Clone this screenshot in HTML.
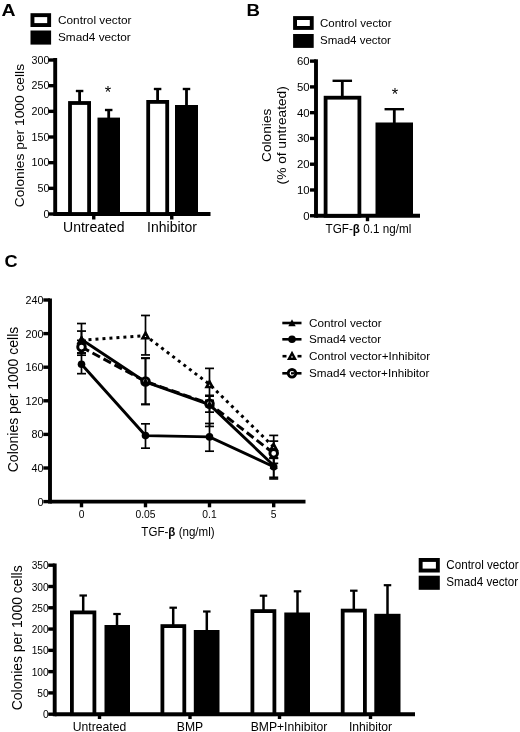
<!DOCTYPE html>
<html><head><meta charset="utf-8"><title>Figure</title>
<style>html,body{margin:0;padding:0;background:#fff;}svg{display:block;filter:blur(0.45px)}text{font-family:"Liberation Sans",sans-serif;fill:#000}</style>
</head><body>
<svg width="520" height="732" viewBox="0 0 520 732">
<rect width="520" height="732" fill="#fff"/>
<text transform="translate(1.5 15.8) scale(1.2 1)" font-size="16.2" text-anchor="start" font-weight="bold" >A</text>
<rect x="32.45" y="15.149999999999999" width="16.700000000000003" height="9.9" fill="#fff" stroke="#000" stroke-width="3.9"/>
<rect x="30.5" y="30.5" width="20.6" height="14.100000000000001" fill="#000"/>
<text transform="translate(58 23.7)" font-size="11.8" text-anchor="start" >Control vector</text>
<text transform="translate(58 41.2)" font-size="11.8" text-anchor="start" >Smad4 vector</text>
<line x1="55.2" y1="58" x2="55.2" y2="215.95" stroke="#000" stroke-width="3.9" />
<line x1="55.2" y1="214.0" x2="210.5" y2="214.0" stroke="#000" stroke-width="3.9" />
<line x1="48.8" y1="214.0" x2="55.2" y2="214.0" stroke="#000" stroke-width="3.4" />
<text transform="translate(49.4 217.7)" font-size="10.7" text-anchor="end" >0</text>
<line x1="48.8" y1="188.335" x2="55.2" y2="188.335" stroke="#000" stroke-width="3.4" />
<text transform="translate(49.4 192.035)" font-size="10.7" text-anchor="end" >50</text>
<line x1="48.8" y1="162.67000000000002" x2="55.2" y2="162.67000000000002" stroke="#000" stroke-width="3.4" />
<text transform="translate(49.4 166.37)" font-size="10.7" text-anchor="end" >100</text>
<line x1="48.8" y1="137.005" x2="55.2" y2="137.005" stroke="#000" stroke-width="3.4" />
<text transform="translate(49.4 140.70499999999998)" font-size="10.7" text-anchor="end" >150</text>
<line x1="48.8" y1="111.34" x2="55.2" y2="111.34" stroke="#000" stroke-width="3.4" />
<text transform="translate(49.4 115.04)" font-size="10.7" text-anchor="end" >200</text>
<line x1="48.8" y1="85.67500000000001" x2="55.2" y2="85.67500000000001" stroke="#000" stroke-width="3.4" />
<text transform="translate(49.4 89.37500000000001)" font-size="10.7" text-anchor="end" >250</text>
<line x1="48.8" y1="60.01000000000002" x2="55.2" y2="60.01000000000002" stroke="#000" stroke-width="3.4" />
<text transform="translate(49.4 63.71000000000002)" font-size="10.7" text-anchor="end" >300</text>
<line x1="93.75" y1="214.0" x2="93.75" y2="219.5" stroke="#000" stroke-width="3.4" />
<line x1="171.75" y1="214.0" x2="171.75" y2="219.5" stroke="#000" stroke-width="3.4" />
<text transform="translate(24.0 135.6) rotate(-90) scale(1.07 1)" font-size="12.9" text-anchor="middle" >Colonies per 1000 cells</text>
<line x1="79.6" y1="91" x2="79.6" y2="104" stroke="#000" stroke-width="2.8" />
<line x1="75.85" y1="91" x2="83.35" y2="91" stroke="#000" stroke-width="2.4" />
<rect x="70.0" y="103.0" width="19.100000000000005" height="111.0" fill="#fff" stroke="#000" stroke-width="3.8"/>
<line x1="108.7" y1="110" x2="108.7" y2="120" stroke="#000" stroke-width="2.8" />
<line x1="104.95" y1="110" x2="112.45" y2="110" stroke="#000" stroke-width="2.4" />
<rect x="97.5" y="117.6" width="22.5" height="96.4" fill="#000"/>
<line x1="157.6" y1="89" x2="157.6" y2="104" stroke="#000" stroke-width="2.8" />
<line x1="153.85" y1="89" x2="161.35" y2="89" stroke="#000" stroke-width="2.4" />
<rect x="148.20000000000002" y="101.9" width="18.999999999999982" height="112.1" fill="#fff" stroke="#000" stroke-width="3.8"/>
<line x1="186.5" y1="89" x2="186.5" y2="108" stroke="#000" stroke-width="2.8" />
<line x1="182.75" y1="89" x2="190.25" y2="89" stroke="#000" stroke-width="2.4" />
<rect x="175" y="105" width="23" height="109.0" fill="#000"/>
<text transform="translate(108 98.3)" font-size="16.5" text-anchor="middle" >*</text>
<text transform="translate(93.75 232)" font-size="14.0" text-anchor="middle" >Untreated</text>
<text transform="translate(172 232)" font-size="14.0" text-anchor="middle" >Inhibitor</text>
<text transform="translate(246.5 15.8) scale(1.15 1)" font-size="16.2" text-anchor="start" font-weight="bold" >B</text>
<rect x="295.05" y="18.05" width="16.699999999999967" height="9.899999999999997" fill="#fff" stroke="#000" stroke-width="3.9"/>
<rect x="293.1" y="34.0" width="20.599999999999966" height="13.899999999999999" fill="#000"/>
<text transform="translate(320 26.8)" font-size="11.5" text-anchor="start" >Control vector</text>
<text transform="translate(320 43.6)" font-size="11.5" text-anchor="start" >Smad4 vector</text>
<line x1="316" y1="59.3" x2="316" y2="217.7" stroke="#000" stroke-width="3.9" />
<line x1="316" y1="215.75" x2="420" y2="215.75" stroke="#000" stroke-width="3.9" />
<line x1="310" y1="215.75" x2="316" y2="215.75" stroke="#000" stroke-width="3.4" />
<text transform="translate(309.7 219.75)" font-size="11.4" text-anchor="end" >0</text>
<line x1="310" y1="189.98" x2="316" y2="189.98" stroke="#000" stroke-width="3.4" />
<text transform="translate(309.7 193.98)" font-size="11.4" text-anchor="end" >10</text>
<line x1="310" y1="164.21" x2="316" y2="164.21" stroke="#000" stroke-width="3.4" />
<text transform="translate(309.7 168.21)" font-size="11.4" text-anchor="end" >20</text>
<line x1="310" y1="138.44" x2="316" y2="138.44" stroke="#000" stroke-width="3.4" />
<text transform="translate(309.7 142.44)" font-size="11.4" text-anchor="end" >30</text>
<line x1="310" y1="112.67" x2="316" y2="112.67" stroke="#000" stroke-width="3.4" />
<text transform="translate(309.7 116.67)" font-size="11.4" text-anchor="end" >40</text>
<line x1="310" y1="86.9" x2="316" y2="86.9" stroke="#000" stroke-width="3.4" />
<text transform="translate(309.7 90.9)" font-size="11.4" text-anchor="end" >50</text>
<line x1="310" y1="61.129999999999995" x2="316" y2="61.129999999999995" stroke="#000" stroke-width="3.4" />
<text transform="translate(309.7 65.13)" font-size="11.4" text-anchor="end" >60</text>
<line x1="367.5" y1="215.75" x2="367.5" y2="221.2" stroke="#000" stroke-width="3.4" />
<text transform="translate(271.0 135.3) rotate(-90)" font-size="13.7" text-anchor="middle" >Colonies</text>
<text transform="translate(286.0 135.3) rotate(-90)" font-size="13.7" text-anchor="middle" >(% of untreated)</text>
<line x1="342.3" y1="80.8" x2="342.3" y2="98" stroke="#000" stroke-width="2.8" />
<line x1="332.55" y1="80.8" x2="352.05" y2="80.8" stroke="#000" stroke-width="2.4" />
<rect x="325.59999999999997" y="97.7" width="33.800000000000026" height="118.05" fill="#fff" stroke="#000" stroke-width="3.8"/>
<line x1="394.3" y1="109.2" x2="394.3" y2="124" stroke="#000" stroke-width="2.8" />
<line x1="384.55" y1="109.2" x2="404.05" y2="109.2" stroke="#000" stroke-width="2.4" />
<rect x="375.5" y="122.5" width="37.5" height="93.25" fill="#000"/>
<text transform="translate(395 100.0)" font-size="16.5" text-anchor="middle" >*</text>
<text transform="translate(368.4 233) scale(0.95 1)" font-size="12.3" text-anchor="middle">TGF-<tspan font-weight="bold">β</tspan> 0.1 ng/ml</text>
<text transform="translate(4.5 267.0) scale(1.12 1)" font-size="16.2" text-anchor="start" font-weight="bold" >C</text>
<line x1="50" y1="298.5" x2="50" y2="503.55" stroke="#000" stroke-width="3.9" />
<line x1="50" y1="501.6" x2="305.5" y2="501.6" stroke="#000" stroke-width="3.9" />
<line x1="43.3" y1="501.6" x2="50" y2="501.6" stroke="#000" stroke-width="3.4" />
<text transform="translate(43.6 505.5)" font-size="10.8" text-anchor="end" >0</text>
<line x1="43.3" y1="468.0" x2="50" y2="468.0" stroke="#000" stroke-width="3.4" />
<text transform="translate(43.6 471.9)" font-size="10.8" text-anchor="end" >40</text>
<line x1="43.3" y1="434.40000000000003" x2="50" y2="434.40000000000003" stroke="#000" stroke-width="3.4" />
<text transform="translate(43.6 438.3)" font-size="10.8" text-anchor="end" >80</text>
<line x1="43.3" y1="400.8" x2="50" y2="400.8" stroke="#000" stroke-width="3.4" />
<text transform="translate(43.6 404.7)" font-size="10.8" text-anchor="end" >120</text>
<line x1="43.3" y1="367.20000000000005" x2="50" y2="367.20000000000005" stroke="#000" stroke-width="3.4" />
<text transform="translate(43.6 371.1)" font-size="10.8" text-anchor="end" >160</text>
<line x1="43.3" y1="333.6" x2="50" y2="333.6" stroke="#000" stroke-width="3.4" />
<text transform="translate(43.6 337.5)" font-size="10.8" text-anchor="end" >200</text>
<line x1="43.3" y1="300.0" x2="50" y2="300.0" stroke="#000" stroke-width="3.4" />
<text transform="translate(43.6 303.9)" font-size="10.8" text-anchor="end" >240</text>
<line x1="81.5" y1="501.6" x2="81.5" y2="507.3" stroke="#000" stroke-width="3.4" />
<text transform="translate(81.5 517.6)" font-size="10.3" text-anchor="middle" >0</text>
<line x1="145.5" y1="501.6" x2="145.5" y2="507.3" stroke="#000" stroke-width="3.4" />
<text transform="translate(145.5 517.6)" font-size="10.3" text-anchor="middle" >0.05</text>
<line x1="209.5" y1="501.6" x2="209.5" y2="507.3" stroke="#000" stroke-width="3.4" />
<text transform="translate(209.5 517.6)" font-size="10.3" text-anchor="middle" >0.1</text>
<line x1="273.7" y1="501.6" x2="273.7" y2="507.3" stroke="#000" stroke-width="3.4" />
<text transform="translate(273.7 517.6)" font-size="10.3" text-anchor="middle" >5</text>
<text transform="translate(18.2 399.5) rotate(-90)" font-size="14.0" text-anchor="middle" >Colonies per 1000 cells</text>
<text transform="translate(178 536.3) scale(0.965 1)" font-size="12" text-anchor="middle">TGF-<tspan font-weight="bold">β</tspan> (ng/ml)</text>
<line x1="81.5" y1="323.52" x2="81.5" y2="355.19" stroke="#000" stroke-width="1.7" />
<line x1="77.0" y1="323.52" x2="86.0" y2="323.52" stroke="#000" stroke-width="1.7" />
<line x1="77.0" y1="355.19" x2="86.0" y2="355.19" stroke="#000" stroke-width="1.7" />
<line x1="145.5" y1="315.46" x2="145.5" y2="354.94" stroke="#000" stroke-width="1.7" />
<line x1="141.0" y1="315.46" x2="150.0" y2="315.46" stroke="#000" stroke-width="1.7" />
<line x1="141.0" y1="354.94" x2="150.0" y2="354.94" stroke="#000" stroke-width="1.7" />
<line x1="209.5" y1="368.38" x2="209.5" y2="400.3" stroke="#000" stroke-width="1.7" />
<line x1="205.0" y1="368.38" x2="214.0" y2="368.38" stroke="#000" stroke-width="1.7" />
<line x1="205.0" y1="400.3" x2="214.0" y2="400.3" stroke="#000" stroke-width="1.7" />
<line x1="273.7" y1="435.41" x2="273.7" y2="457.92" stroke="#000" stroke-width="1.7" />
<line x1="269.2" y1="435.41" x2="278.2" y2="435.41" stroke="#000" stroke-width="1.7" />
<line x1="269.2" y1="457.92" x2="278.2" y2="457.92" stroke="#000" stroke-width="1.7" />
<line x1="81.5" y1="331.08" x2="81.5" y2="347.88" stroke="#000" stroke-width="1.7" />
<line x1="77.0" y1="331.08" x2="86.0" y2="331.08" stroke="#000" stroke-width="1.7" />
<line x1="77.0" y1="347.88" x2="86.0" y2="347.88" stroke="#000" stroke-width="1.7" />
<line x1="145.5" y1="358.38" x2="145.5" y2="404.58" stroke="#000" stroke-width="1.7" />
<line x1="141.0" y1="358.38" x2="150.0" y2="358.38" stroke="#000" stroke-width="1.7" />
<line x1="141.0" y1="404.58" x2="150.0" y2="404.58" stroke="#000" stroke-width="1.7" />
<line x1="209.5" y1="396.18" x2="209.5" y2="426.42" stroke="#000" stroke-width="1.7" />
<line x1="205.0" y1="396.18" x2="214.0" y2="396.18" stroke="#000" stroke-width="1.7" />
<line x1="205.0" y1="426.42" x2="214.0" y2="426.42" stroke="#000" stroke-width="1.7" />
<line x1="273.7" y1="452.04" x2="273.7" y2="478.92" stroke="#000" stroke-width="1.7" />
<line x1="269.2" y1="452.04" x2="278.2" y2="452.04" stroke="#000" stroke-width="1.7" />
<line x1="269.2" y1="478.92" x2="278.2" y2="478.92" stroke="#000" stroke-width="1.7" />
<line x1="81.5" y1="340.32" x2="81.5" y2="353.0" stroke="#000" stroke-width="1.7" />
<line x1="77.0" y1="340.32" x2="86.0" y2="340.32" stroke="#000" stroke-width="1.7" />
<line x1="77.0" y1="353.0" x2="86.0" y2="353.0" stroke="#000" stroke-width="1.7" />
<line x1="145.5" y1="357.96" x2="145.5" y2="404.16" stroke="#000" stroke-width="1.7" />
<line x1="141.0" y1="357.96" x2="150.0" y2="357.96" stroke="#000" stroke-width="1.7" />
<line x1="141.0" y1="404.16" x2="150.0" y2="404.16" stroke="#000" stroke-width="1.7" />
<line x1="209.5" y1="395.34" x2="209.5" y2="412.14" stroke="#000" stroke-width="1.7" />
<line x1="205.0" y1="395.34" x2="214.0" y2="395.34" stroke="#000" stroke-width="1.7" />
<line x1="205.0" y1="412.14" x2="214.0" y2="412.14" stroke="#000" stroke-width="1.7" />
<line x1="273.7" y1="441.12" x2="273.7" y2="463.38" stroke="#000" stroke-width="1.7" />
<line x1="269.2" y1="441.12" x2="278.2" y2="441.12" stroke="#000" stroke-width="1.7" />
<line x1="269.2" y1="463.38" x2="278.2" y2="463.38" stroke="#000" stroke-width="1.7" />
<line x1="81.5" y1="353.0" x2="81.5" y2="373.67" stroke="#000" stroke-width="1.7" />
<line x1="77.0" y1="353.0" x2="86.0" y2="353.0" stroke="#000" stroke-width="1.7" />
<line x1="77.0" y1="373.67" x2="86.0" y2="373.67" stroke="#000" stroke-width="1.7" />
<line x1="145.5" y1="423.82" x2="145.5" y2="448.18" stroke="#000" stroke-width="1.7" />
<line x1="141.0" y1="423.82" x2="150.0" y2="423.82" stroke="#000" stroke-width="1.7" />
<line x1="141.0" y1="448.18" x2="150.0" y2="448.18" stroke="#000" stroke-width="1.7" />
<line x1="209.5" y1="423.48" x2="209.5" y2="451.2" stroke="#000" stroke-width="1.7" />
<line x1="205.0" y1="423.48" x2="214.0" y2="423.48" stroke="#000" stroke-width="1.7" />
<line x1="205.0" y1="451.2" x2="214.0" y2="451.2" stroke="#000" stroke-width="1.7" />
<line x1="273.7" y1="458.34" x2="273.7" y2="477.32" stroke="#000" stroke-width="1.7" />
<line x1="269.2" y1="458.34" x2="278.2" y2="458.34" stroke="#000" stroke-width="1.7" />
<line x1="269.2" y1="477.32" x2="278.2" y2="477.32" stroke="#000" stroke-width="1.7" />
<polyline points="81.5,340.32 145.5,335.62 209.5,384.34 273.7,447.0" fill="none" stroke="#000" stroke-width="3.0" stroke-dasharray="3 4"/>
<polyline points="81.5,347.04 145.5,381.48 209.5,403.74 273.7,453.3" fill="none" stroke="#000" stroke-width="3.0" stroke-dasharray="8.5 4"/>
<polyline points="81.5,339.48 145.5,381.9 209.5,404.58 273.7,465.48" fill="none" stroke="#000" stroke-width="2.9"/>
<polyline points="81.5,364.26 145.5,435.58 209.5,436.92 273.7,466.74" fill="none" stroke="#000" stroke-width="2.9"/>
<polygon points="81.5,337.52 78.555,342.945 84.445,342.945" fill="#fff" stroke="#000" stroke-width="2.6" stroke-linejoin="miter"/>
<polygon points="145.5,332.82 142.555,338.245 148.445,338.245" fill="#fff" stroke="#000" stroke-width="2.6" stroke-linejoin="miter"/>
<polygon points="209.5,381.53999999999996 206.555,386.965 212.445,386.965" fill="#fff" stroke="#000" stroke-width="2.6" stroke-linejoin="miter"/>
<polygon points="273.7,444.2 270.755,449.625 276.645,449.625" fill="#fff" stroke="#000" stroke-width="2.6" stroke-linejoin="miter"/>
<circle cx="81.5" cy="347.04" r="3.8" fill="#fff" stroke="#000" stroke-width="2.9"/>
<circle cx="145.5" cy="381.48" r="3.8" fill="#fff" stroke="#000" stroke-width="2.9"/>
<circle cx="209.5" cy="403.74" r="3.8" fill="#fff" stroke="#000" stroke-width="2.9"/>
<circle cx="273.7" cy="453.3" r="3.8" fill="#fff" stroke="#000" stroke-width="2.9"/>
<polygon points="81.5,335.18 77.415,342.70500000000004 85.585,342.70500000000004" fill="#000" stroke="#000" stroke-width="0" stroke-linejoin="miter"/>
<polygon points="145.5,377.59999999999997 141.415,385.125 149.585,385.125" fill="#000" stroke="#000" stroke-width="0" stroke-linejoin="miter"/>
<polygon points="209.5,400.28 205.415,407.805 213.585,407.805" fill="#000" stroke="#000" stroke-width="0" stroke-linejoin="miter"/>
<polygon points="273.7,461.18 269.615,468.70500000000004 277.78499999999997,468.70500000000004" fill="#000" stroke="#000" stroke-width="0" stroke-linejoin="miter"/>
<circle cx="81.5" cy="364.26" r="3.8" fill="#000" stroke="#000" stroke-width="0"/>
<circle cx="145.5" cy="435.58" r="3.8" fill="#000" stroke="#000" stroke-width="0"/>
<circle cx="209.5" cy="436.92" r="3.8" fill="#000" stroke="#000" stroke-width="0"/>
<circle cx="273.7" cy="466.74" r="3.8" fill="#000" stroke="#000" stroke-width="0"/>
<text transform="translate(309 326.7)" font-size="11.7" text-anchor="start" >Control vector</text>
<text transform="translate(309 343.0)" font-size="11.7" text-anchor="start" >Smad4 vector</text>
<text transform="translate(309 359.9)" font-size="11.7" text-anchor="start" >Control vector+Inhibitor</text>
<text transform="translate(309 377.0)" font-size="11.7" text-anchor="start" >Smad4 vector+Inhibitor</text>
<line x1="282.3" y1="323" x2="301.5" y2="323" stroke="#000" stroke-width="2.6" />
<polygon points="292,319.3 288.295,326.125 295.705,326.125" fill="#000" stroke="#000" stroke-width="0" stroke-linejoin="miter"/>
<line x1="282.3" y1="339.3" x2="301.5" y2="339.3" stroke="#000" stroke-width="2.6" />
<circle cx="292" cy="339.3" r="3.8" fill="#000" stroke="#000" stroke-width="0"/>
<line x1="282.5" y1="356.2" x2="286.5" y2="356.2" stroke="#000" stroke-width="2.6" />
<line x1="297.5" y1="356.2" x2="301.5" y2="356.2" stroke="#000" stroke-width="2.6" />
<polygon points="292,353.2 288.96,358.79999999999995 295.04,358.79999999999995" fill="#fff" stroke="#000" stroke-width="2.4" stroke-linejoin="miter"/>
<line x1="282.3" y1="373.3" x2="301.5" y2="373.3" stroke="#000" stroke-width="2.6" />
<circle cx="292" cy="373.3" r="3.8" fill="#fff" stroke="#000" stroke-width="2.8"/>
<line x1="291" y1="373.3" x2="294.5" y2="373.3" stroke="#000" stroke-width="2.2" />
<line x1="54.7" y1="563.5" x2="54.7" y2="716.1500000000001" stroke="#000" stroke-width="3.9" />
<line x1="54.7" y1="714.2" x2="415" y2="714.2" stroke="#000" stroke-width="3.9" />
<line x1="48.2" y1="714.2" x2="54.7" y2="714.2" stroke="#000" stroke-width="3.4" />
<text transform="translate(48.6 718.3000000000001) scale(0.9 1)" font-size="11.3" text-anchor="end" >0</text>
<line x1="48.2" y1="692.9150000000001" x2="54.7" y2="692.9150000000001" stroke="#000" stroke-width="3.4" />
<text transform="translate(48.6 697.0150000000001) scale(0.9 1)" font-size="11.3" text-anchor="end" >50</text>
<line x1="48.2" y1="671.63" x2="54.7" y2="671.63" stroke="#000" stroke-width="3.4" />
<text transform="translate(48.6 675.73) scale(0.9 1)" font-size="11.3" text-anchor="end" >100</text>
<line x1="48.2" y1="650.345" x2="54.7" y2="650.345" stroke="#000" stroke-width="3.4" />
<text transform="translate(48.6 654.445) scale(0.9 1)" font-size="11.3" text-anchor="end" >150</text>
<line x1="48.2" y1="629.0600000000001" x2="54.7" y2="629.0600000000001" stroke="#000" stroke-width="3.4" />
<text transform="translate(48.6 633.1600000000001) scale(0.9 1)" font-size="11.3" text-anchor="end" >200</text>
<line x1="48.2" y1="607.7750000000001" x2="54.7" y2="607.7750000000001" stroke="#000" stroke-width="3.4" />
<text transform="translate(48.6 611.8750000000001) scale(0.9 1)" font-size="11.3" text-anchor="end" >250</text>
<line x1="48.2" y1="586.49" x2="54.7" y2="586.49" stroke="#000" stroke-width="3.4" />
<text transform="translate(48.6 590.59) scale(0.9 1)" font-size="11.3" text-anchor="end" >300</text>
<line x1="48.2" y1="565.205" x2="54.7" y2="565.205" stroke="#000" stroke-width="3.4" />
<text transform="translate(48.6 569.3050000000001) scale(0.9 1)" font-size="11.3" text-anchor="end" >350</text>
<text transform="translate(21.6 637.8) rotate(-90) scale(0.955 1)" font-size="14.6" text-anchor="middle" >Colonies per 1000 cells</text>
<line x1="99.5" y1="714.2" x2="99.5" y2="719" stroke="#000" stroke-width="3.4" />
<line x1="190" y1="714.2" x2="190" y2="719" stroke="#000" stroke-width="3.4" />
<line x1="279.5" y1="714.2" x2="279.5" y2="719" stroke="#000" stroke-width="3.4" />
<line x1="370.5" y1="714.2" x2="370.5" y2="719" stroke="#000" stroke-width="3.4" />
<line x1="83.2" y1="595.5" x2="83.2" y2="613" stroke="#000" stroke-width="2.5" />
<line x1="79.45" y1="595.5" x2="86.95" y2="595.5" stroke="#000" stroke-width="2.2" />
<rect x="71.9" y="612.4" width="22.499999999999996" height="101.80000000000004" fill="#fff" stroke="#000" stroke-width="3.8"/>
<line x1="117" y1="614" x2="117" y2="628" stroke="#000" stroke-width="2.5" />
<line x1="113.25" y1="614" x2="120.75" y2="614" stroke="#000" stroke-width="2.2" />
<rect x="104.5" y="625.0" width="25.5" height="89.20000000000005" fill="#000"/>
<line x1="173.2" y1="607.7" x2="173.2" y2="627" stroke="#000" stroke-width="2.5" />
<line x1="169.45" y1="607.7" x2="176.95" y2="607.7" stroke="#000" stroke-width="2.2" />
<rect x="162.4" y="626.1" width="21.899999999999988" height="88.1" fill="#fff" stroke="#000" stroke-width="3.8"/>
<line x1="206.8" y1="611.5" x2="206.8" y2="632" stroke="#000" stroke-width="2.5" />
<line x1="203.05" y1="611.5" x2="210.55" y2="611.5" stroke="#000" stroke-width="2.2" />
<rect x="193.8" y="630" width="25.69999999999999" height="84.20000000000005" fill="#000"/>
<line x1="263.5" y1="595.7" x2="263.5" y2="612" stroke="#000" stroke-width="2.5" />
<line x1="259.75" y1="595.7" x2="267.25" y2="595.7" stroke="#000" stroke-width="2.2" />
<rect x="252.4" y="611.1" width="22.00000000000001" height="103.1" fill="#fff" stroke="#000" stroke-width="3.8"/>
<line x1="297.5" y1="591.3" x2="297.5" y2="615" stroke="#000" stroke-width="2.5" />
<line x1="293.75" y1="591.3" x2="301.25" y2="591.3" stroke="#000" stroke-width="2.2" />
<rect x="284.3" y="612.5" width="25.69999999999999" height="101.70000000000005" fill="#000"/>
<line x1="353.8" y1="590.7" x2="353.8" y2="611" stroke="#000" stroke-width="2.5" />
<line x1="350.05" y1="590.7" x2="357.55" y2="590.7" stroke="#000" stroke-width="2.2" />
<rect x="342.7" y="610.6" width="22.2" height="103.6" fill="#fff" stroke="#000" stroke-width="3.8"/>
<line x1="387.5" y1="585.2" x2="387.5" y2="616" stroke="#000" stroke-width="2.5" />
<line x1="383.75" y1="585.2" x2="391.25" y2="585.2" stroke="#000" stroke-width="2.2" />
<rect x="374.3" y="613.8" width="26.19999999999999" height="100.40000000000009" fill="#000"/>
<text transform="translate(99.5 731.3) scale(0.95 1)" font-size="12.8" text-anchor="middle" >Untreated</text>
<text transform="translate(190 731.3) scale(0.95 1)" font-size="12.8" text-anchor="middle" >BMP</text>
<text transform="translate(289 731.3) scale(0.95 1)" font-size="12.8" text-anchor="middle" >BMP+Inhibitor</text>
<text transform="translate(370.5 731.3) scale(0.95 1)" font-size="12.8" text-anchor="middle" >Inhibitor</text>
<rect x="420.65" y="559.95" width="17.200000000000024" height="10.6" fill="#fff" stroke="#000" stroke-width="3.9"/>
<rect x="418.7" y="575.7" width="21.100000000000023" height="14.099999999999909" fill="#000"/>
<text transform="translate(446.3 569.4) scale(0.955 1)" font-size="12.2" text-anchor="start" >Control vector</text>
<text transform="translate(446.3 586.1) scale(0.955 1)" font-size="12.2" text-anchor="start" >Smad4 vector</text>
</svg>
</body></html>
